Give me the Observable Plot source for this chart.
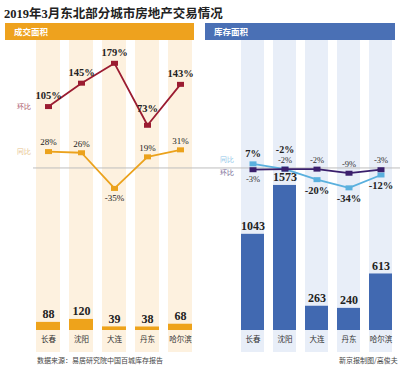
<!DOCTYPE html>
<html>
<head>
<meta charset="utf-8">
<script src="https://cdn.jsdelivr.net/npm/d3@7"></script>
<script src="https://cdn.jsdelivr.net/npm/@observablehq/plot@0.6"></script>
<style>
  html, body { margin: 0; padding: 0; background: #fff; }
  #root { position: relative; width: 400px; height: 366px; overflow: hidden; font-family: "Noto Sans CJK SC", sans-serif; }
  .title { position: absolute; left: 4px; top: 3px; font-size: 12.5px; font-weight: 700; color: #222; white-space: nowrap;
           font-family: "Liberation Serif", "Noto Sans CJK SC", serif; }
  .hdr { position: absolute; top: 23px; height: 17px; color: #fff; font-size: 8.5px; font-weight: 700; line-height: 17px; padding-left: 9px; box-sizing: border-box; }
  .panel { position: absolute; top: 40px; width: 200px; height: 312px; }
  .panel svg { position: absolute; left: 0; top: 0; }
  .src { position: absolute; top: 355px; font-size: 7px; color: #444; white-space: nowrap; }
</style>
</head>
<body>
<div id="root">
  <div class="title">2019年3月东北部分城市房地产交易情况</div>
  <div class="hdr" style="left:5px;width:189px;background:#eea21e;">成交面积</div>
  <div class="hdr" style="left:205px;width:190px;background:#4a70b5;">库存面积</div>
  <div class="panel" id="left" style="left:0px;"></div>
  <div class="panel" id="right" style="left:200px;"></div>
  <div class="src" style="left:37px;">数据来源：易居研究院中国百城库存报告</div>
  <div class="src" style="left:339px;">新京报制图/高俊夫</div>
</div>
<script>
const cities = ["长春", "沈阳", "大连", "丹东", "哈尔滨"];
const dealArea = [88, 120, 39, 38, 68];
const dealMoM = [105, 145, 179, 73, 143];
const dealYoY = [28, 26, -35, 19, 31];
const stockArea = [1043, 1573, 263, 240, 613];
const stockYoY = [7, -2, -20, -34, -12];
const stockMoM = [-3, -2, -2, -9, -3];

const serif = "Liberation Serif";
const W = 200, H = 312, MB = 22;
const rectSym = { draw(ctx) { ctx.rect(-3.5, -2.5, 7, 5); } };
const svgStyle = { background: "transparent", overflow: "visible" };

function rows(vals) { return cities.map((c, i) => ({ city: c, v: vals[i], i })); }

function barPlot(ml, mr, bg, fill, vals) {
  const data = rows(vals);
  return Plot.plot({
    width: W, height: H, marginTop: 0, marginBottom: MB, marginLeft: ml, marginRight: mr,
    style: svgStyle,
    x: { type: "band", domain: cities, paddingInner: 0.27, paddingOuter: 0, axis: null },
    y: { domain: [0, 3145], axis: null },
    marks: [
      Plot.cell(cities, { x: d => d, fill: bg, insetBottom: -MB }),
      Plot.barY(data, { x: "city", y: "v", fill }),
      Plot.text(data, { x: "city", y: "v", text: d => String(d.v), dy: -8, fontSize: 12, fontWeight: "bold", fontFamily: serif, fill: "#222" }),
      Plot.text(cities, { x: d => d, frameAnchor: "bottom", dy: 11, fontSize: 7.5, fill: "#333", fontFamily: "Noto Sans CJK SC" })
    ]
  });
}

function linePlot(ml, mr, insL, insR, marks) {
  return Plot.plot({
    width: W, height: H, marginTop: 0, marginBottom: MB, marginLeft: ml, marginRight: mr,
    style: svgStyle,
    x: { type: "band", domain: cities, paddingInner: 0.27, paddingOuter: 0, axis: null },
    y: { domain: [-278, 218], axis: null },
    marks: [
      Plot.ruleY([0], { stroke: "#bdbdbd", strokeWidth: 1, insetLeft: insL, insetRight: insR }),
      ...marks
    ]
  });
}

function series(data, color, width) {
  return [
    Plot.line(data, { x: "city", y: "v", stroke: color, strokeWidth: width }),
    Plot.dot(data, { x: "city", y: "v", symbol: rectSym, fill: color, r: 3 })
  ];
}
function labels(data, dy, size, weight, fill) {
  return Plot.text(data, { x: "city", y: "v", text: d => d.v + "%", dy, fontSize: size, fontWeight: weight, fontFamily: serif, fill });
}
function isValley(vals, i) {
  return i > 0 && i < vals.length - 1 && vals[i] < vals[i - 1] && vals[i] < vals[i + 1];
}

// Left panel
const lMoM = rows(dealMoM), lYoY = rows(dealYoY);
const leftEl = document.getElementById("left");
leftEl.append(barPlot(36, 7, "#fdf1df", "#eea31b", dealArea));
leftEl.append(linePlot(36, 7, -3, -7, [
  ...series(lYoY, "#eba21c", 1.8),
  ...series(lMoM, "#9b1c31", 1.8),
  labels(lMoM.filter(d => !isValley(dealMoM, d.i)), -11, 10.5, "bold", "#222"),
  labels(lMoM.filter(d => isValley(dealMoM, d.i)), -17, 10.5, "bold", "#222"),
  labels(lYoY.filter(d => d.v >= 0), -9, 9, "normal", "#222"),
  labels(lYoY.filter(d => d.v < 0), 10, 9, "normal", "#222"),
  Plot.text(["环比"], { y: dealMoM[0], frameAnchor: "left", textAnchor: "end", dx: -6, fontSize: 6.5, fill: "#a34a5a" }),
  Plot.text(["同比"], { y: dealYoY[0], frameAnchor: "left", textAnchor: "end", dx: -6, fontSize: 6.5, fill: "#e6c28a" })
]));

// Right panel
const rYoY = rows(stockYoY), rMoM = rows(stockMoM);
const yoyAbove = rYoY.filter(d => d.v >= stockMoM[d.i]);
const yoyBelow = rYoY.filter(d => d.v < stockMoM[d.i]);
const momAbove = rMoM.filter(d => d.v >= stockYoY[d.i]);
const momBelow = rMoM.filter(d => d.v < stockYoY[d.i]);
const rightEl = document.getElementById("right");
rightEl.append(barPlot(39, 5, "#e8eef8", "#4169b1", stockArea));
rightEl.append(linePlot(39, 5, -39, -5, [
  ...series(rYoY, "#5ab0de", 1.8),
  ...series(rMoM, "#3a1f6c", 1.8),
  labels(yoyAbove.filter(d => d.v !== stockMoM[d.i]), -10, 10.5, "bold", "#222"),
  labels(yoyAbove.filter(d => d.v === stockMoM[d.i]), -19, 10, "bold", "#222"),
  labels(yoyBelow, 11, 10.5, "bold", "#222"),
  labels(momAbove, -9, 8.5, "normal", "#333"),
  labels(momBelow, 10, 8.5, "normal", "#333"),
  Plot.text(["同比"], { y: stockYoY[0], frameAnchor: "left", textAnchor: "end", dx: -6, dy: -4, fontSize: 6.5, fill: "#8ec5e8" }),
  Plot.text(["环比"], { y: stockMoM[0], frameAnchor: "left", textAnchor: "end", dx: -6, dy: 3, fontSize: 6.5, fill: "#6a5c8c" })
]));
</script>
</body>
</html>
